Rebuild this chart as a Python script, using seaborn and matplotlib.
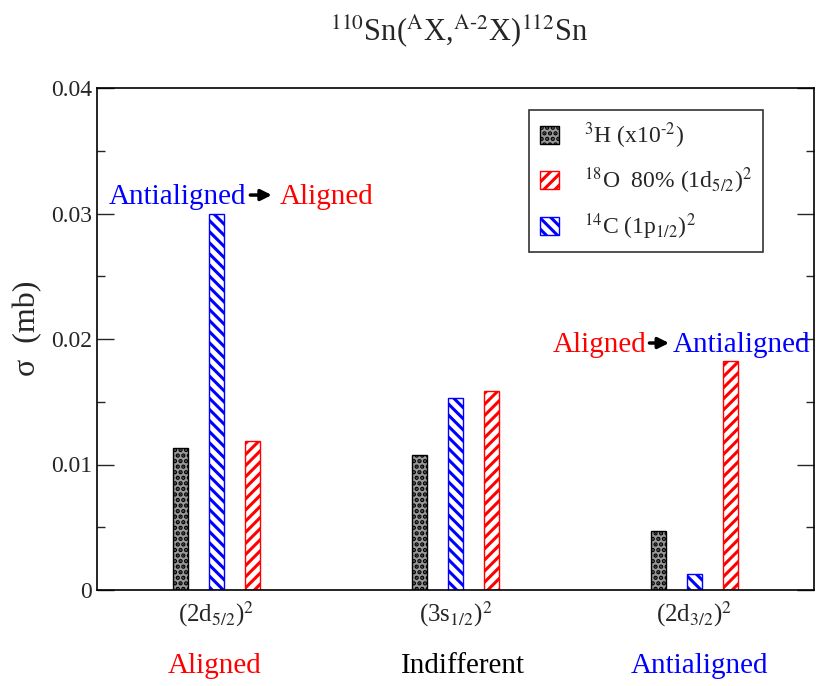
import numpy as np
import pandas as pd
import matplotlib
matplotlib.use("Agg")
import matplotlib.pyplot as plt
import matplotlib.transforms as mtransforms
from matplotlib.patches import Patch
from matplotlib.ticker import MultipleLocator, FuncFormatter
import seaborn as sns

# ---- data ----
categories = [r"(2d$_{5/2}$)$^{2}$", r"(3s$_{1/2}$)$^{2}$", r"(2d$_{3/2}$)$^{2}$"]
h3_vals = [0.0113, 0.01076, 0.0047]      # 3H (x10^-2)
c14_vals = [0.0300, 0.01532, 0.00127]    # 14C (1p1/2)^2
o18_vals = [0.01187, 0.01588, 0.01825]   # 18O 80% (1d5/2)^2
series = ["3H", "14C", "18O"]
legend_labels = {
    "3H": r"$^{3}$H (x10$^{\text{-}2}$)",
    "18O": r"$^{18}$O  80% (1d$_{5/2}$)$^{2}$",
    "14C": r"$^{14}$C (1p$_{1/2}$)$^{2}$",
}
bottom_labels = ["Aligned", "Indifferent", "Antialigned"]
bottom_colors = ["red", "black", "blue"]

df = pd.DataFrame({
    "cat": categories * 3,
    "series": ["3H"] * 3 + ["14C"] * 3 + ["18O"] * 3,
    "value": h3_vals + c14_vals + o18_vals,
})

sns.set_style("ticks")
plt.rcParams["font.family"] = ["Liberation Serif", "DejaVu Serif"]
plt.rcParams["mathtext.fontset"] = "stix"
plt.rcParams["hatch.linewidth"] = 2.2

fig = plt.figure(figsize=(8.16, 6.86), dpi=100)
ax = fig.add_axes([97 / 816, 1 - 590 / 686, 717 / 816, 502 / 686])

styles = {
    "3H": dict(facecolor="#999999", edgecolor="black", hatch="...", lw=1.0),
    "14C": dict(facecolor="white", edgecolor="blue", hatch="\\\\\\", lw=1.0),
    "18O": dict(facecolor="white", edgecolor="red", hatch="///", lw=1.0),
}

sns.barplot(data=df, x="cat", y="value", hue="series", hue_order=series,
            order=categories, width=0.45, gap=0.58, ax=ax, legend=False,
            palette={"3H": "#999999", "14C": "white", "18O": "white"},
            errorbar=None)

for cont, s in zip(ax.containers, series):
    st = styles[s]
    for p in cont.patches:
        p.set_facecolor(st["facecolor"])
        p.set_edgecolor(st["edgecolor"])
        p.set_hatch(st["hatch"])
        p.set_linewidth(st["lw"])

ax.set_xlim(-0.5, 2.5)
ax.set_ylim(0, 0.04)
ax.yaxis.set_major_locator(MultipleLocator(0.01))
ax.yaxis.set_minor_locator(MultipleLocator(0.005))
ax.yaxis.set_major_formatter(FuncFormatter(lambda v, pos: "0" if abs(v) < 1e-9 else f"{v:.2f}"))
ax.tick_params(axis="y", which="both", direction="in", left=True, right=True, labelsize=17)
ax.tick_params(axis="y", which="major", length=12, width=1)
ax.tick_params(axis="y", which="minor", length=6, width=1)
ax.tick_params(axis="x", length=0, labelsize=18, pad=7)
for sp in ax.spines.values():
    sp.set_visible(True)
    sp.set_linewidth(1.2)
    sp.set_color("black")

ax.set_xlabel("")
ax.set_ylabel("σ  (mb)", fontsize=23)
ax.yaxis.set_label_coords(-0.077, 0.522)

# legend
handles = [Patch(facecolor=styles[s]["facecolor"], edgecolor=styles[s]["edgecolor"],
                 hatch=styles[s]["hatch"], lw=1.0, label=legend_labels[s])
           for s in ["3H", "18O", "14C"]]
leg = ax.legend(handles=handles, loc="upper left", bbox_to_anchor=(0.6025, 0.956),
                borderaxespad=0, fontsize=17, frameon=True, fancybox=False,
                edgecolor="black", handlelength=0.8, handleheight=0.8,
                handletextpad=1.1, labelspacing=0.62, borderpad=0.45)
leg.get_frame().set_linewidth(1.2)

# annotations in the plot
fs = 21
ax.text(0.123, 0.03076, "Antialigned", color="blue", ha="right", va="baseline", fontsize=fs)
ax.text(0.266, 0.03076, "Aligned", color="red", ha="left", va="baseline", fontsize=fs)
ax.annotate("", xy=(0.243, 0.03147), xytext=(0.130, 0.03147),
            arrowprops=dict(arrowstyle="-|>", color="black", lw=2.5, mutation_scale=16))

ax.text(1.797, 0.01896, "Aligned", color="red", ha="right", va="baseline", fontsize=fs)
ax.text(1.910, 0.01896, "Antialigned", color="blue", ha="left", va="baseline", fontsize=fs)
ax.annotate("", xy=(1.905, 0.01968), xytext=(1.800, 0.01968),
            arrowprops=dict(arrowstyle="-|>", color="black", lw=2.5, mutation_scale=16))

trans = mtransforms.blended_transform_factory(ax.transData, ax.transAxes)
for xpos, lab, col in zip([-0.008, 1.03, 2.02], bottom_labels, bottom_colors):
    ax.text(xpos, -0.165, lab, color=col, ha="center", va="baseline", fontsize=fs,
            transform=trans)

fig.text(459 / 816, 1 - 41 / 686,
         r"$^{110}$Sn($^{\mathrm{A}}$X,$^{\mathrm{A}\text{-}2}$X)$^{112}$Sn",
         ha="center", va="baseline", fontsize=22)

fig.savefig("out.png", dpi=100)
